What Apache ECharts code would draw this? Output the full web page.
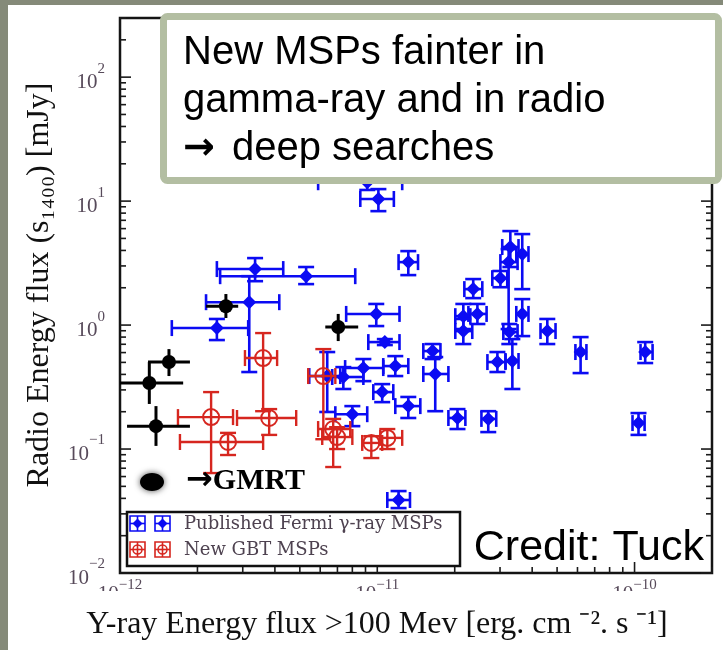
<!DOCTYPE html>
<html><head><meta charset="utf-8">
<script src="https://cdn.jsdelivr.net/npm/echarts@6/dist/echarts.min.js"></script>
<style>html,body{margin:0;padding:0;background:#fff;}#c{width:723px;height:650px;}</style>
</head><body><div id="c"></div>
<script>
// ---------- data (x: gamma-ray energy flux, y: radio flux in mJy) ----------
const blueX     = [3.35e-12,5.29e-12,3.18e-12,2.38e-12,9.14e-12,1.01e-11,1.32e-11,9.91e-12,1.07e-11,8.83e-12,1.175e-11,6.39e-12,7.38e-12,1.045e-11,1.32e-11,8.0e-12,1.64e-11,1.68e-11,2.05e-11,2.70e-11,2.93e-11,3.35e-11,3.26e-11,2.36e-11,2.16e-11,2.45e-11,2.16e-11,3.01e-11,3.24e-11,3.29e-11,3.66e-11,3.66e-11,4.58e-11,6.17e-11,1.10e-10,1.036e-10,1.21e-11];
const blueXLow  = [2.38e-12,2.45e-12,2.16e-12,1.59e-12,5.89e-12,8.59e-12,1.21e-11,7.57e-12,9.23e-12,7.5e-12,1.055e-11,5.44e-12,6.68e-12,9.65e-12,1.175e-11,6.87e-12,1.51e-11,1.51e-11,1.89e-11,2.54e-11,2.68e-11,3.15e-11,3.09e-11,2.18e-11,2.01e-11,2.26e-11,2.01e-11,2.80e-11,3.01e-11,3.06e-11,3.47e-11,3.47e-11,4.31e-11,5.89e-11,1.055e-10,9.82e-11,1.094e-11];
const blueXHigh = [4.31e-12,8.21e-12,4.16e-12,3.15e-12,1.25e-11,1.16e-11,1.44e-11,1.22e-11,1.22e-11,1.055e-11,1.32e-11,7.18e-12,8.83e-12,1.154e-11,1.47e-11,9.14e-12,1.76e-11,1.89e-11,2.2e-11,2.90e-11,3.15e-11,3.54e-11,3.51e-11,2.56e-11,2.30e-11,2.66e-11,2.34e-11,3.2e-11,3.51e-11,3.54e-11,3.87e-11,3.87e-11,4.93e-11,6.5e-11,1.175e-10,1.094e-10,1.34e-11];
const blueY     = [2.83,2.48,1.53,0.946,14.2,10.4,3.22,1.23,0.729,0.45,0.467,0.388,0.381,0.288,0.222,0.191,0.617,0.403,0.178,0.175,0.503,0.513,0.878,1.95,1.18,1.23,0.895,2.39,3.22,4.26,3.74,1.23,0.895,0.606,0.606,0.162,0.0388];
const blueYLow  = [2.26,2.14,0.418,0.757,12.3,8.3,2.53,0.982,0.69,0.353,0.388,0.199,0.305,0.239,0.178,0.153,0.532,0.202,0.145,0.137,0.418,0.305,0.703,1.65,0.929,1.02,0.703,2.02,0.929,2.94,1.95,0.815,0.703,0.41,0.494,0.130,0.0334];
const blueYHigh = [3.47,2.94,2.48,1.12,16.5,12.5,3.95,1.48,0.771,0.532,0.562,0.606,0.458,0.334,0.263,0.222,0.703,0.552,0.21,0.202,0.606,0.771,1.02,2.35,1.48,1.48,1.12,2.73,4.10,5.73,5.42,1.62,1.12,0.80,0.729,0.195,0.0458];

const redX     = [3.60e-12,2.26e-12,3.80e-12,2.63e-12,6.17e-12,6.74e-12,6.98e-12,9.48e-12,1.094e-11];
const redXLow  = [3.06e-12,1.68e-12,2.85e-12,1.71e-12,5.39e-12,5.89e-12,6.11e-12,8.74e-12,1.027e-11];
const redXHigh = [4.08e-12,2.75e-12,4.84e-12,3.60e-12,6.87e-12,7.85e-12,8.0e-12,1.045e-11,1.25e-11];
const redY     = [0.542,0.181,0.178,0.114,0.388,0.145,0.125,0.112,0.123];
const redYLow  = [0.202,0.064,0.130,0.0895,0.12,0.0716,0.1,0.0846,0.1];
const redYHigh = [0.862,0.288,0.21,0.135,0.64,0.175,0.150,0.127,0.145];

const blackX     = [2.58e-12,7.05e-12,1.55e-12,1.30e-12,1.38e-12];
const blackXLow  = [2.16e-12,6.28e-12,1.285e-12,1.0e-12,1.065e-12];
const blackXHigh = [2.88e-12,8.43e-12,1.87e-12,1.76e-12,1.87e-12];
const blackY     = [1.42,0.964,0.503,0.341,0.153];
const blackYLow  = [1.14,0.743,0.388,0.231,0.106];
const blackYHigh = [1.78,1.23,0.64,0.503,0.222];

const xMin = 1e-12, xMax = 2e-10;
const yMin = 1e-2, yMax = 300;
const xTickDecades = [-12, -11, -10];
const yTickDecades = [-2, -1, 0, 1, 2];
const tickMantissas = [1, 2, 3, 4, 5, 6, 7, 8, 9];

const legendNames = ['Published Fermi \u03b3-ray MSPs', 'New GBT MSPs'];
const xTitle = 'Y-ray Energy flux >100 Mev [erg. cm \u207b\u00b2. s \u207b\u00b9]';
const yTitle = 'Radio Energy flux (s\u2081\u2084\u2080\u2080) [mJy]';
const boxLines = ['New MSPs fainter in', 'gamma-ray and in radio', 'deep searches'];
const creditText = 'Credit: Tuck';
const gmrtText = 'GMRT';
const ARROW = '\u2192';

// ---------- build ----------
const rows = (X, Y, XL, XH, YL, YH) => X.map((v, i) => [v, Y[i], XL[i], XH[i], YL[i], YH[i]]);
const BLUE = '#0b0bf3', RED = '#d6261f', LBL = '#574a5a', SLIDE = '#858a79';

function makeRender(st) {
  return function (params, api) {
    const x = api.value(0), y = api.value(1);
    const c = api.coord([x, y]);
    const xl = api.coord([api.value(2), y])[0];
    const xh = api.coord([api.value(3), y])[0];
    const yl = api.coord([x, api.value(4)])[1];
    const yh = api.coord([x, api.value(5)])[1];
    const ls = { stroke: st.color, lineWidth: st.lw };
    const ch = [];
    const L = (x1, y1, x2, y2) => ch.push({ type: 'line', shape: { x1, y1, x2, y2 }, style: ls });
    L(xl, c[1], xh, c[1]);
    L(c[0], yl, c[0], yh);
    if (st.cap) {
      const k = st.cap;
      L(xl, c[1] - k, xl, c[1] + k); L(xh, c[1] - k, xh, c[1] + k);
      L(c[0] - k, yl, c[0] + k, yl); L(c[0] - k, yh, c[0] + k, yh);
    }
    const s = st.size;
    if (st.marker === 'diamond') {
      ch.push({ type: 'polygon', shape: { points: [[c[0], c[1] - s], [c[0] + s, c[1]], [c[0], c[1] + s], [c[0] - s, c[1]]] }, style: { fill: st.color } });
    } else if (st.marker === 'ring') {
      ch.push({ type: 'circle', shape: { cx: c[0], cy: c[1], r: s }, style: { fill: 'none', stroke: st.color, lineWidth: 2 } });
    } else {
      ch.push({ type: 'circle', shape: { cx: c[0], cy: c[1], r: s }, style: { fill: st.color } });
    }
    return { type: 'group', children: ch };
  };
}

const xTicks = [], yTicks = [];
xTickDecades.forEach(d => tickMantissas.forEach(m => { const v = m * Math.pow(10, d); if (v >= xMin * 0.999 && v <= xMax * 1.001) xTicks.push([v, yMin, m === 1 ? 1 : 0]); }));
yTickDecades.forEach(d => tickMantissas.forEach(m => { const v = m * Math.pow(10, d); if (v >= yMin * 0.999 && v <= yMax * 1.001) yTicks.push([xMin, v, m === 1 ? 1 : 0]); }));
const TK = { stroke: '#1a1a1a', lineWidth: 1.6 };

function powLabel(v) {
  const lg = Math.log10(v), e = Math.round(lg);
  if (Math.abs(lg - e) > 1e-6) return '';
  return '{b|10}{e|' + (e < 0 ? '\u2212' + (-e) : String(e)) + '}';
}
const labelRich = (lh) => ({
  b: { fontFamily: 'Liberation Serif', fontSize: 21, color: LBL, lineHeight: lh, verticalAlign: 'bottom' },
  e: { fontFamily: 'Liberation Serif', fontSize: 15, color: LBL, lineHeight: 15, verticalAlign: 'top' }
});

const chart = echarts.init(document.getElementById('c'), null, { renderer: 'canvas' });
const option = {
  animation: false,
  backgroundColor: '#ffffff',
  grid: { left: 120, right: 11, top: 18, bottom: 77, show: true, borderColor: '#141414', borderWidth: 2.5, backgroundColor: 'transparent' },
  xAxis: {
    type: 'log', logBase: 10, min: xMin, max: xMax,
    axisLine: { show: false }, axisTick: { show: false }, splitLine: { show: false },
    axisLabel: { margin: 5, formatter: powLabel, rich: labelRich(27) }
  },
  yAxis: {
    type: 'log', logBase: 10, min: yMin, max: yMax,
    axisLine: { show: false }, axisTick: { show: false }, splitLine: { show: false },
    axisLabel: { margin: 15, formatter: powLabel, rich: labelRich(32) }
  },
  series: [
    { type: 'custom', name: 'xticks', silent: true, clip: false, encode: { x: 0, y: 1 }, data: xTicks,
      renderItem: (p, api) => { const cs = p.coordSys; const px = api.coord([api.value(0), yMin])[0]; const len = api.value(2) ? 11 : 6;
        return { type: 'group', children: [
          { type: 'line', shape: { x1: px, y1: cs.y + cs.height, x2: px, y2: cs.y + cs.height - len }, style: TK },
          { type: 'line', shape: { x1: px, y1: cs.y, x2: px, y2: cs.y + len }, style: TK }] }; } },
    { type: 'custom', name: 'yticks', silent: true, clip: false, encode: { x: 0, y: 1 }, data: yTicks,
      renderItem: (p, api) => { const cs = p.coordSys; const py = api.coord([xMin, api.value(1)])[1]; const len = api.value(2) ? 11 : 6;
        return { type: 'group', children: [
          { type: 'line', shape: { x1: cs.x, y1: py, x2: cs.x + len, y2: py }, style: TK },
          { type: 'line', shape: { x1: cs.x + cs.width, y1: py, x2: cs.x + cs.width - len, y2: py }, style: TK }] }; } },
    { type: 'custom', name: legendNames[0], clip: true, encode: { x: 0, y: 1 }, data: rows(blueX, blueY, blueXLow, blueXHigh, blueYLow, blueYHigh),
      renderItem: makeRender({ color: BLUE, lw: 2.6, cap: 8, marker: 'diamond', size: 7 }) },
    { type: 'custom', name: legendNames[1], clip: true, encode: { x: 0, y: 1 }, data: rows(redX, redY, redXLow, redXHigh, redYLow, redYHigh),
      renderItem: makeRender({ color: RED, lw: 2.4, cap: 8, marker: 'ring', size: 8 }) },
    { type: 'custom', name: 'GMRT', clip: true, encode: { x: 0, y: 1 }, data: rows(blackX, blackY, blackXLow, blackXHigh, blackYLow, blackYHigh),
      renderItem: makeRender({ color: '#000', lw: 3, cap: 0, marker: 'dot', size: 7 }) }
  ],
  graphic: [
    // slide edges
    { type: 'rect', z: 60, shape: { x: 0, y: 0, width: 8, height: 650 }, style: { fill: SLIDE } },
    { type: 'rect', z: 60, shape: { x: 0, y: 0, width: 723, height: 5 }, style: { fill: SLIDE } },
    // white cover of title zones
    { type: 'rect', z: 50, shape: { x: 8, y: 52, width: 59, height: 456 }, style: { fill: '#fff' } },
    { type: 'rect', z: 50, shape: { x: 8, y: 591, width: 715, height: 59 }, style: { fill: '#fff' } },
    { type: 'text', z: 55, x: 40, y: 285, rotation: Math.PI / 2,
      style: { text: yTitle, font: '32px "Liberation Serif"', fill: '#111', textAlign: 'center', textVerticalAlign: 'middle' } },
    { type: 'text', z: 55, x: 377, y: 625,
      style: { text: xTitle, font: '32px "Liberation Serif"', fill: '#111', textAlign: 'center', textVerticalAlign: 'middle' } },
    // annotation box
    { type: 'rect', z: 70, shape: { x: 163.5, y: 16.5, width: 555, height: 164, r: 4 }, style: { fill: '#fff', stroke: '#b3bea2', lineWidth: 7 } },
    { type: 'text', z: 71, x: 183, y: 53, style: { text: boxLines[0], font: '40px "Liberation Sans"', fill: '#000', textVerticalAlign: 'middle' } },
    { type: 'text', z: 71, x: 183, y: 101, style: { text: boxLines[1], font: '40px "Liberation Sans"', fill: '#000', textVerticalAlign: 'middle' } },
    { type: 'text', z: 71, x: 183, y: 149, style: { text: '{a|' + ARROW + '} ' + boxLines[2], font: '40px "Liberation Sans"', fill: '#000', textVerticalAlign: 'middle',
      rich: { a: { fontFamily: 'DejaVu Sans', fontWeight: 'bold', fontSize: 38, fill: '#000', padding: [0, 6, 0, 0] } } } },
    // credit
    { type: 'text', z: 71, x: 704, y: 548, style: { text: creditText, font: '43px "Liberation Sans"', fill: '#000', textAlign: 'right', textVerticalAlign: 'middle' } },
    // GMRT marker
    { type: 'ellipse', z: 71, shape: { cx: 152, cy: 482, rx: 12, ry: 9 }, style: { fill: '#000', shadowBlur: 6, shadowColor: 'rgba(0,0,0,0.7)' } },
    { type: 'text', z: 71, x: 186, y: 481, style: { text: '{a|' + ARROW + '}' + gmrtText, font: 'bold 30px "Liberation Serif"', fill: '#000', textVerticalAlign: 'middle',
      rich: { a: { fontFamily: 'DejaVu Sans', fontWeight: 'bold', fontSize: 32, fill: '#000' } } } },
    // legend
    { type: 'rect', z: 71, shape: { x: 127, y: 512, width: 333, height: 54 }, style: { fill: '#fff', stroke: '#111', lineWidth: 2.5 } },
    ...[130, 155].map(x0 => ({ type: 'group', z: 72, x: x0, y: 516, children: [
      { type: 'rect', z: 72, shape: { x: 0, y: 0, width: 15, height: 15 }, style: { fill: 'none', stroke: BLUE, lineWidth: 1.6 } },
      { type: 'line', z: 72, shape: { x1: 0, y1: 7.5, x2: 15, y2: 7.5 }, style: { stroke: BLUE, lineWidth: 1.6 } },
      { type: 'line', z: 72, shape: { x1: 7.5, y1: 0, x2: 7.5, y2: 15 }, style: { stroke: BLUE, lineWidth: 1.6 } },
      { type: 'polygon', z: 72, shape: { points: [[7.5, 2.5], [12.5, 7.5], [7.5, 12.5], [2.5, 7.5]] }, style: { fill: BLUE } }] })),
    ...[130, 155].map(x0 => ({ type: 'group', z: 72, x: x0, y: 542, children: [
      { type: 'rect', z: 72, shape: { x: 0, y: 0, width: 15, height: 15 }, style: { fill: 'none', stroke: RED, lineWidth: 1.6 } },
      { type: 'line', z: 72, shape: { x1: 0, y1: 7.5, x2: 15, y2: 7.5 }, style: { stroke: RED, lineWidth: 1.6 } },
      { type: 'line', z: 72, shape: { x1: 7.5, y1: 0, x2: 7.5, y2: 15 }, style: { stroke: RED, lineWidth: 1.6 } },
      { type: 'circle', z: 72, shape: { cx: 7.5, cy: 7.5, r: 4.5 }, style: { fill: 'none', stroke: RED, lineWidth: 1.5 } }] })),
    { type: 'text', z: 72, x: 184, y: 524, style: { text: legendNames[0], font: '18px "DejaVu Serif"', fill: '#4e4250', textVerticalAlign: 'middle' } },
    { type: 'text', z: 72, x: 184, y: 550, style: { text: legendNames[1], font: '18px "DejaVu Serif"', fill: '#4e4250', textVerticalAlign: 'middle' } }
  ]
};
chart.setOption(option);
</script></body></html>
